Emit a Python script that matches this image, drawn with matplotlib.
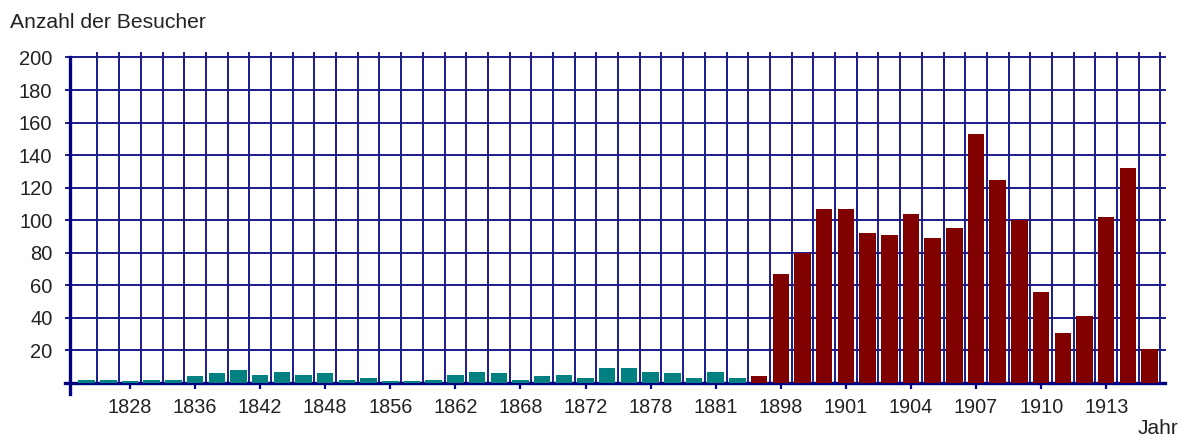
import numpy as np
import matplotlib.pyplot as plt

plt.rcParams['font.family'] = ['Liberation Sans', 'DejaVu Sans']

# visitors per bar (50 bars, left to right)
visitors_early = [2, 2, 1, 2, 2, 4, 6, 8, 5, 7, 5, 6, 2, 3, 1, 1, 2, 5,
                  7, 6, 2, 4, 5, 3, 9, 9, 7, 6, 3, 7, 3]
visitors_late = [4, 67, 80, 107, 107, 92, 91, 104, 89, 95, 153, 125, 100,
                 56, 31, 41, 102, 132, 21]

tick_labels = ['1828', '1836', '1842', '1848', '1856', '1862', '1868', '1872',
               '1878', '1881', '1898', '1901', '1904', '1907', '1910', '1913']
y_ticks = [20, 40, 60, 80, 100, 120, 140, 160, 180, 200]

values = visitors_early + visitors_late
n = len(values)
x = np.arange(n)
colors = ['#008080'] * len(visitors_early) + ['#800000'] * len(visitors_late)

navy = '#000080'
grid_col = '#1a1a8c'

fig = plt.figure(figsize=(11.84, 4.36), dpi=100)
W, H = 1184, 436
ax = fig.add_axes([70 / W, (H - 383) / H, (1165 - 70) / W, (383 - 57.5) / H])

ax.bar(x, values, width=0.76, color=colors, zorder=3)

ax.set_xlim(-0.765, 49.71)
ax.set_ylim(0, 200)

# grid: vertical lines between bars, horizontal lines at y ticks
ax.set_xticks(x[::3][:len(tick_labels)] + 2)
ax.set_xticklabels(tick_labels)
ax.set_xticks(x + 0.5, minor=True)
ax.set_yticks(y_ticks)
ax.grid(True, which='minor', axis='x', color=grid_col, lw=1.4)
ax.grid(True, which='major', axis='y', color=grid_col, lw=1.4)
ax.set_axisbelow(True)
for line in ax.get_ygridlines():
    line.set_clip_on(False)

ax.tick_params(axis='x', which='major', length=4.5, width=1.6, color=navy,
               labelsize=14.3, pad=6, labelcolor='#222222')
ax.tick_params(axis='x', which='minor', top=True, bottom=False,
               length=3.5, width=1.4, color=grid_col)
ax.tick_params(axis='y', length=3.6, width=1.4, color=grid_col,
               labelsize=14.5, pad=9, labelcolor='#222222')

for side in ['top', 'right']:
    ax.spines[side].set_visible(False)
ax.spines['left'].set_color(navy)
ax.spines['left'].set_linewidth(2.4)
ax.spines['left'].set_bounds(-6.5, 200)
ax.spines['bottom'].set_color(navy)
ax.spines['bottom'].set_linewidth(2.4)
ax.spines['bottom'].set_bounds(-1.0, 49.71)

fig.text(10 / W, 1 - 22 / H, 'Anzahl der Besucher', fontsize=15.2,
         color='#222222', va='center', ha='left')
fig.text(1138 / W, 1 - 428 / H, 'Jahr', fontsize=15,
         color='#222222', va='center', ha='left')

fig.savefig('out.png', dpi=100)
